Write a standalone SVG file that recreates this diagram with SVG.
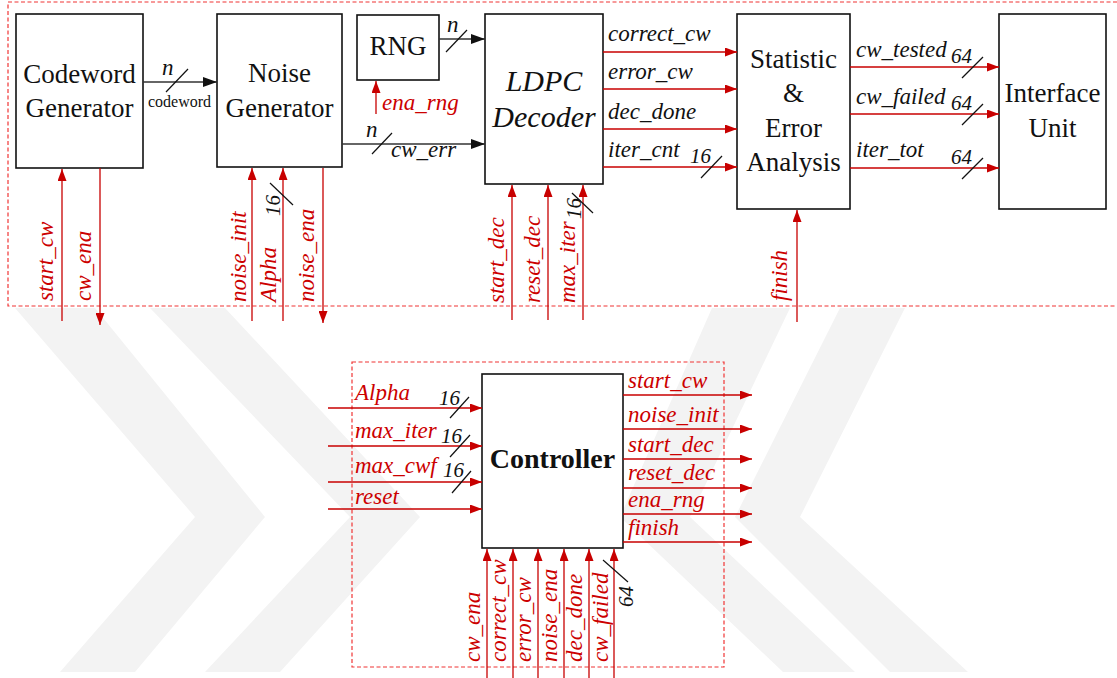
<svg xmlns="http://www.w3.org/2000/svg" width="1117" height="678" viewBox="0 0 1117 678" font-family="'Liberation Serif', 'Times New Roman', serif">
<defs>
<style>
text{font-family:'Liberation Serif','Times New Roman',serif}
.box{fill:#fff;stroke:#111;stroke-width:1.6}
.lbl{font-size:27px;fill:#111;text-anchor:middle}
.it{font-style:italic;font-size:23px}
.blk{fill:#111}
.red{fill:#cc0000}
.num{font-style:italic;font-size:21px;fill:#111}
.rl{stroke:#c80000;stroke-width:1.3;fill:none}
.bl{stroke:#333;stroke-width:1.3;fill:none}
.sl{stroke:#111;stroke-width:1.2}
.dash{fill:none;stroke:#f03535;stroke-width:1.2;stroke-dasharray:4 2.5}
.wm{fill:#f3f3f3}
</style>
<marker id="ra" markerUnits="userSpaceOnUse" markerWidth="12" markerHeight="9" refX="12" refY="4.5" orient="auto"><path d="M0,0 L12,4.5 L0,9 Z" fill="#c80000"/></marker>
<marker id="ba" markerUnits="userSpaceOnUse" markerWidth="14" markerHeight="10" refX="14" refY="5" orient="auto"><path d="M0,0 L14,5 L0,10 Z" fill="#111"/></marker>
</defs>
<rect width="1117" height="678" fill="#fff"/>
<g id="watermark">
<polygon class="wm" points="15,308 95,308 265,517 135,672 60,672 195,517"/>
<polygon class="wm" points="150,308 225,308 420,517 280,672 205,672 350,517"/>
<polygon class="wm" points="712,308 790,308 690,517 855,672 783,672 620,517"/>
<polygon class="wm" points="840,308 905,308 800,517 968,672 890,672 735,517"/>
</g>
<g id="frames">
<path class="dash" d="M1117,2 H8 V306 H1117"/>
<rect class="dash" x="352" y="362" width="372" height="305"/>
</g>
<g id="codeword-generator">
<rect class="box" x="16" y="14" width="127" height="154"/>
<text class="lbl" x="79.5" y="83">Codeword</text>
<text class="lbl" x="79.5" y="117">Generator</text>
</g>
<g id="noise-generator">
<rect class="box" x="217" y="14" width="125" height="153"/>
<text class="lbl" x="279.5" y="82">Noise</text>
<text class="lbl" x="279.5" y="117">Generator</text>
</g>
<g id="rng">
<rect class="box" x="357" y="15" width="82" height="65"/>
<text class="lbl" x="398" y="55">RNG</text>
</g>
<g id="ldpc-decoder">
<rect class="box" x="485" y="14" width="118" height="170"/>
<text class="lbl" x="544" y="91" style="font-style:italic;font-size:30px">LDPC</text>
<text class="lbl" x="544" y="127" style="font-style:italic;font-size:30px">Decoder</text>
</g>
<g id="statistic-error-analysis">
<rect class="box" x="737" y="14" width="113" height="195"/>
<text class="lbl" x="793.5" y="68">Statistic</text>
<text class="lbl" x="793.5" y="102">&amp;</text>
<text class="lbl" x="793.5" y="137">Error</text>
<text class="lbl" x="793.5" y="171">Analysis</text>
</g>
<g id="interface-unit">
<rect class="box" x="999" y="14" width="107" height="195"/>
<text class="lbl" x="1052.5" y="102">Interface</text>
<text class="lbl" x="1052.5" y="137">Unit</text>
</g>
<g id="controller">
<rect class="box" x="482" y="374" width="141" height="174"/>
<text class="lbl" x="552.5" y="468" style="font-weight:bold;font-size:28px">Controller</text>
</g>
<g id="connectors">
<line class="bl" x1="143" y1="82" x2="217" y2="82" marker-end="url(#ba)"/>
<line class="sl" x1="166" y1="92" x2="188" y2="69"/>
<text class="it blk" x="162" y="75">n</text>
<text x="179.5" y="107" font-size="16" fill="#111" text-anchor="middle">codeword</text>
<line class="bl" x1="439" y1="39" x2="485" y2="39" marker-end="url(#ba)"/>
<line class="sl" x1="446" y1="52" x2="467" y2="30"/>
<text class="it blk" x="447" y="32">n</text>
<line class="bl" x1="342" y1="144" x2="485" y2="144" marker-end="url(#ba)"/>
<line class="sl" x1="372" y1="154" x2="392" y2="133"/>
<text class="it blk" x="366" y="137">n</text>
<text class="it blk" x="391" y="157">cw_err</text>
<line class="rl" x1="376" y1="114" x2="376" y2="81" marker-end="url(#ra)"/>
<text class="it red" x="382" y="110">ena_rng</text>
<line class="rl" x1="603" y1="52" x2="737" y2="52" marker-end="url(#ra)"/>
<text class="it blk" x="608" y="41">correct_cw</text>
<line class="rl" x1="603" y1="89" x2="737" y2="89" marker-end="url(#ra)"/>
<text class="it blk" x="608" y="79">error_cw</text>
<line class="rl" x1="603" y1="129" x2="737" y2="129" marker-end="url(#ra)"/>
<text class="it blk" x="608" y="119">dec_done</text>
<line class="rl" x1="603" y1="167" x2="737" y2="167" marker-end="url(#ra)"/>
<text class="it blk" x="608" y="157">iter_cnt</text>
<text class="num" x="690" y="163">16</text>
<line class="sl" x1="701" y1="178" x2="722" y2="156"/>
<line class="rl" x1="850" y1="67" x2="999" y2="67" marker-end="url(#ra)"/>
<text class="it blk" x="856" y="57">cw_tested</text>
<text class="num" x="951" y="63">64</text>
<line class="sl" x1="962" y1="78" x2="983" y2="57"/>
<line class="rl" x1="850" y1="114" x2="999" y2="114" marker-end="url(#ra)"/>
<text class="it blk" x="856" y="104">cw_failed</text>
<text class="num" x="951" y="110">64</text>
<line class="sl" x1="962" y1="125" x2="983" y2="104"/>
<line class="rl" x1="850" y1="168" x2="999" y2="168" marker-end="url(#ra)"/>
<text class="it blk" x="856" y="157">iter_tot</text>
<text class="num" x="951" y="164">64</text>
<line class="sl" x1="962" y1="179" x2="983" y2="158"/>
<line class="rl" x1="62" y1="321" x2="62" y2="169" marker-end="url(#ra)"/>
<text class="it red" transform="translate(53,301) rotate(-90)">start_cw</text>
<line class="rl" x1="100" y1="168" x2="100" y2="325" marker-end="url(#ra)"/>
<text class="it red" transform="translate(91,301) rotate(-90)">cw_ena</text>
<line class="rl" x1="252" y1="321" x2="252" y2="168" marker-end="url(#ra)"/>
<text class="it red" transform="translate(246,302) rotate(-90)">noise_init</text>
<line class="rl" x1="283" y1="321" x2="283" y2="168" marker-end="url(#ra)"/>
<text class="it red" transform="translate(276,302) rotate(-90)">Alpha</text>
<text class="num" transform="translate(280,216) rotate(-90)">16</text>
<line class="sl" x1="270" y1="183" x2="293" y2="205"/>
<line class="rl" x1="323" y1="168" x2="323" y2="323" marker-end="url(#ra)"/>
<text class="it red" transform="translate(314,302) rotate(-90)">noise_ena</text>
<line class="rl" x1="512" y1="320" x2="512" y2="185" marker-end="url(#ra)"/>
<text class="it red" transform="translate(504,303) rotate(-90)">start_dec</text>
<line class="rl" x1="548" y1="320" x2="548" y2="185" marker-end="url(#ra)"/>
<text class="it red" transform="translate(540,303) rotate(-90)">reset_dec</text>
<line class="rl" x1="583" y1="320" x2="583" y2="185" marker-end="url(#ra)"/>
<text class="it red" transform="translate(575,303) rotate(-90)">max_iter</text>
<text class="num" transform="translate(581,219) rotate(-90)">16</text>
<line class="sl" x1="572" y1="193" x2="593" y2="213"/>
<line class="rl" x1="797" y1="322" x2="797" y2="210" marker-end="url(#ra)"/>
<text class="it red" transform="translate(787,301) rotate(-90)">finish</text>
<line class="rl" x1="328" y1="408" x2="482" y2="408" marker-end="url(#ra)"/>
<text class="it red" x="355" y="400">Alpha</text>
<text class="num" x="439" y="405">16</text>
<line class="sl" x1="450" y1="418" x2="469" y2="397"/>
<line class="rl" x1="328" y1="446" x2="482" y2="446" marker-end="url(#ra)"/>
<text class="it red" x="355" y="438">max_iter</text>
<text class="num" x="441" y="443">16</text>
<line class="sl" x1="450" y1="457" x2="470" y2="435"/>
<line class="rl" x1="328" y1="482" x2="482" y2="482" marker-end="url(#ra)"/>
<text class="it red" x="355" y="473">max_cwf</text>
<text class="num" x="443" y="477">16</text>
<line class="sl" x1="452" y1="493" x2="471" y2="471"/>
<line class="rl" x1="328" y1="509" x2="482" y2="509" marker-end="url(#ra)"/>
<text class="it red" x="355" y="504">reset</text>
<line class="rl" x1="623" y1="395" x2="752" y2="395" marker-end="url(#ra)"/>
<text class="it red" x="628" y="388">start_cw</text>
<line class="rl" x1="623" y1="429" x2="752" y2="429" marker-end="url(#ra)"/>
<text class="it red" x="628" y="422">noise_init</text>
<line class="rl" x1="623" y1="459" x2="752" y2="459" marker-end="url(#ra)"/>
<text class="it red" x="628" y="452">start_dec</text>
<line class="rl" x1="623" y1="488" x2="752" y2="488" marker-end="url(#ra)"/>
<text class="it red" x="628" y="480">reset_dec</text>
<line class="rl" x1="623" y1="514" x2="752" y2="514" marker-end="url(#ra)"/>
<text class="it red" x="628" y="507">ena_rng</text>
<line class="rl" x1="623" y1="542" x2="752" y2="542" marker-end="url(#ra)"/>
<text class="it red" x="628" y="535">finish</text>
<line class="rl" x1="487" y1="678" x2="487" y2="549" marker-end="url(#ra)"/>
<text class="it red" transform="translate(480,662) rotate(-90)">cw_ena</text>
<line class="rl" x1="513" y1="678" x2="513" y2="549" marker-end="url(#ra)"/>
<text class="it red" transform="translate(506,662) rotate(-90)">correct_cw</text>
<line class="rl" x1="538" y1="678" x2="538" y2="549" marker-end="url(#ra)"/>
<text class="it red" transform="translate(531,662) rotate(-90)">error_cw</text>
<line class="rl" x1="564" y1="678" x2="564" y2="549" marker-end="url(#ra)"/>
<text class="it red" transform="translate(557,662) rotate(-90)">noise_ena</text>
<line class="rl" x1="589" y1="678" x2="589" y2="549" marker-end="url(#ra)"/>
<text class="it red" transform="translate(582,662) rotate(-90)">dec_done</text>
<line class="rl" x1="614" y1="678" x2="614" y2="549" marker-end="url(#ra)"/>
<text class="it red" transform="translate(608,662) rotate(-90)">cw_failed</text>
<text class="num" transform="translate(633,607) rotate(-90)">64</text>
<line class="sl" x1="603" y1="560" x2="628" y2="582"/>
</g>
</svg>
